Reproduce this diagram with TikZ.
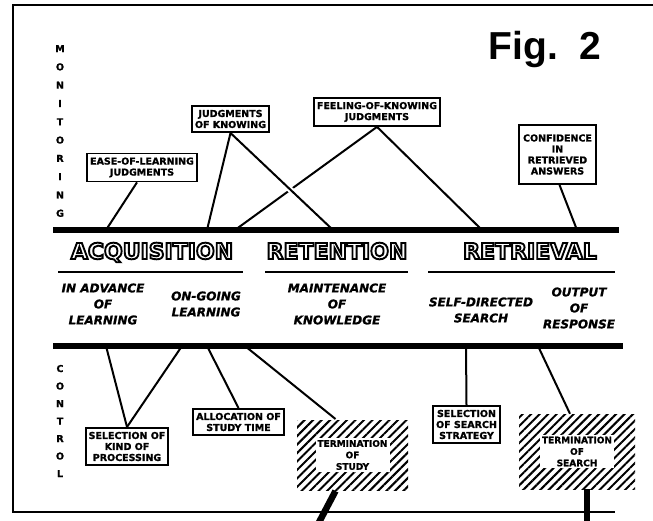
\documentclass[tikz,border=0pt]{standalone}
\usepackage{fontspec}
\usetikzlibrary{patterns.meta}
\setmainfont{DejaVu Sans}[BoldFeatures={FakeBold=1.2},BoldItalicFeatures={FakeBold=1}]
\newfontfamily\figfont{Liberation Sans}
\newfontfamily\stagefont{DejaVu Sans}
\newcommand\hollow[1]{\special{pdf:literal direct q 1 Tr 1.9 w}#1\special{pdf:literal direct Q}}

\begin{document}
\begin{tikzpicture}[x=1pt,y=-1pt,
	box/.style={draw,line width=1.8pt,inner xsep=3pt,inner ysep=4pt,align=center,font=\bfseries\fontsize{9.5}{11}\selectfont},
	hatch/.style={pattern={Lines[angle=45,distance=6pt,line width=2pt]}},
	hatchtext/.style={fill=white,inner sep=2pt,align=center,font=\bfseries\fontsize{9}{11.5}\selectfont},
	stage/.style={anchor=base,font=\stagefont\bfseries\fontsize{22}{24}\selectfont},
	phase/.style={align=center,font=\bfseries\itshape\fontsize{12}{16}\selectfont},
	axis/.style={align=center,font=\bfseries\fontsize{9.5}{18.3}\selectfont},
	rule/.style={line width=6.5pt},
	subrule/.style={line width=2.4pt},
	link/.style={line width=2pt}]
	\useasboundingbox (0,0) rectangle (653,521);
	\draw[line width=1.5pt] (653,5) -- (13,5) -- (13,512) -- (615,512);

	\node[axis] (mon) at (60,131) {M\\O\\N\\I\\T\\O\\R\\I\\N\\G};
	\node[axis,font=\bfseries\fontsize{9.5}{17.5}\selectfont] (ctl) at (60,421) {C\\O\\N\\T\\R\\O\\L};
	\node[anchor=base west,font=\figfont\bfseries\fontsize{39}{39}\selectfont] (fig) at (485,60) {Fig.\hspace{0.56em}2};

	\node[stage] (acq) at (152,259) {\hollow{ACQUISITION}};
	\node[stage] (ret) at (337,259) {\hollow{RETENTION}};
	\node[stage] (rtv) at (530,259) {\hollow{RETRIEVAL}};

	\node[phase] (adv) at (103,304) {IN ADVANCE\\OF\\LEARNING};
	\node[phase] (ongo) at (206,304) {ON-GOING\\LEARNING};
	\node[phase] (maint) at (337,304) {MAINTENANCE\\OF\\KNOWLEDGE};
	\node[phase] (self) at (481,310) {SELF-DIRECTED\\SEARCH};
	\node[phase] (outp) at (579,308) {OUTPUT\\OF\\RESPONSE};

	% monitoring
	\node[box] (elj) at (142,167.5) {EASE-OF-LEARNING\\JUDGMENTS};
	\node[box] (jok) at (230.5,119) {JUDGMENTS\\OF KNOWING};
	\node[box] (fok) at (377,112) {FEELING-OF-KNOWING\\JUDGMENTS};
	\node[box,minimum width=77pt,minimum height=59pt] (conf) at (557.5,154.5) {CONFIDENCE\\IN\\RETRIEVED\\ANSWERS};

	% control
	\node[box] (sel) at (127,446.5) {SELECTION OF\\KIND OF\\PROCESSING};
	\node[box] (alloc) at (238.5,422) {ALLOCATION OF\\STUDY TIME};
	\node[box] (sss) at (466.5,424.5) {SELECTION\\OF SEARCH\\STRATEGY};
	\node[hatch,minimum width=111pt,minimum height=70pt] (tstudy) at (352.5,455) {};
	\node[hatchtext] (tstudytxt) at (tstudy) {TERMINATION\\OF\\STUDY};
	\node[hatch,minimum width=116pt,minimum height=75pt] (tsearch) at (577,451.5) {};
	\node[hatchtext] (tsearchtxt) at (tsearch) {TERMINATION\\OF\\SEARCH};

	\coordinate (m1) at (106,230);
	\coordinate (m2) at (207,230);
	\coordinate (m3) at (333,230);
	\coordinate (m4) at (235,230);
	\coordinate (m5) at (482,230);
	\coordinate (m6) at (577,230);
	\coordinate (c1) at (106,346);
	\coordinate (c2) at (182,346);
	\coordinate (c3) at (207,346);
	\coordinate (c4) at (245,346);
	\coordinate (c5) at (466,346);
	\coordinate (c6) at (538,346);
	\coordinate (e1) at (316,528);
	\coordinate (e2) at (587,528);

	\draw[link] ([xshift=-5pt]elj.south) edge (m1)
	(jok.south) edge (m2)
	(fok.south) edge (m4)
	(fok.south) edge (m5)
	([xshift=2pt]conf.south) edge (m6);
	\draw[white,line width=6pt,shorten <=20pt,shorten >=20pt] (jok.south) -- (m3);
	\draw[link] (jok.south) -- (m3);

	\draw[link] (sel.north) edge (c1)
	(sel.north) edge (c2)
	(alloc.north) edge (c3)
	([xshift=-17pt]tstudy.north) edge (c4)
	(sss.north) edge (c5)
	([xshift=-7pt]tsearch.north) edge (c6);
	\draw[line width=6.5pt] ([xshift=-17pt]tstudy.south) -- (e1);
	\draw[line width=6.5pt] ([xshift=10pt]tsearch.south) -- (e2);

	\draw[rule] (53,230) -- (619,230);
	\draw[rule] (53,346) -- (623,346);
	\draw[subrule] (58,272) -- (243,272);
	\draw[subrule] (265,272) -- (408,272);
	\draw[subrule] (428,272) -- (615,272);
\end{tikzpicture}
\end{document}
